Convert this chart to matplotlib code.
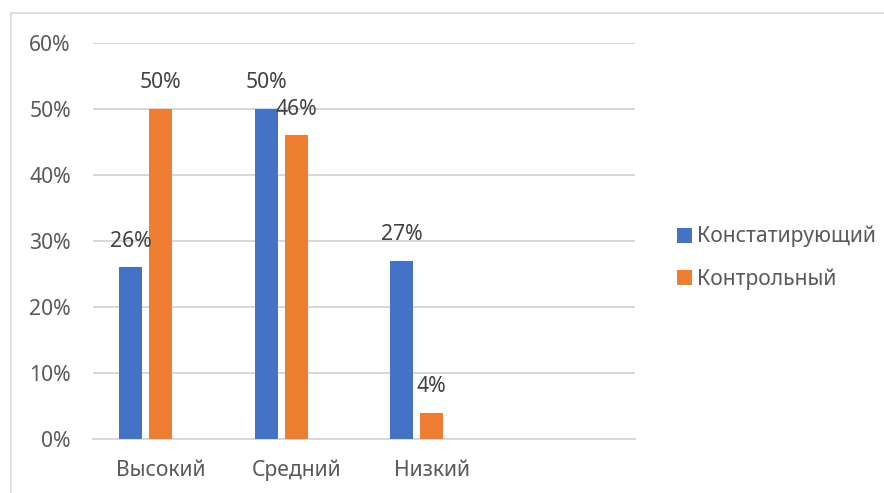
import matplotlib.pyplot as plt
from matplotlib.patches import Rectangle
import numpy as np

# Data
categories = ["Высокий", "Средний", "Низкий", ""]
series_names = ["Констатирующий", "Контрольный"]
konst = [26, 50, 27]
kontr = [50, 46, 4]
colors = ["#4472C4", "#ED7D31"]

plt.rcParams["font.family"] = ["Noto Sans", "DejaVu Sans"]

fig = plt.figure(figsize=(8.84, 4.93), dpi=100)
ax = fig.add_axes([93 / 884, 1 - 439 / 493, (635 - 93) / 884, (439 - 43) / 493])

x = np.arange(len(categories))
step = 30 / 135.5
width = 23 / 135.5

b1 = ax.bar(x[:3] - step, np.array(konst) / 100, width, color=colors[0], label=series_names[0], zorder=3)
b2 = ax.bar(x[:3], np.array(kontr) / 100, width, color=colors[1], label=series_names[1], zorder=3)

fs = 15.2
for bars, vals in [(b1, konst), (b2, kontr)]:
    for rect, v in zip(bars, vals):
        ax.annotate(f"{v}%", (rect.get_x() + rect.get_width() / 2, rect.get_height()),
                    xytext=(0, 19), textcoords="offset points",
                    ha="center", va="center", fontsize=fs, color="#404040", zorder=4)

ax.set_xlim(-0.5, 3.5)
ax.set_ylim(0, 0.6)
ax.set_yticks(np.arange(0, 0.61, 0.1))
ax.set_yticklabels([f"{int(round(t * 100))}%" for t in np.arange(0, 0.61, 0.1)])
ax.set_xticks(x)
ax.set_xticklabels(categories)
ax.tick_params(axis="y", length=0, pad=16, labelsize=fs, labelcolor="#595959")
ax.tick_params(axis="x", length=0, pad=15, labelsize=fs, labelcolor="#595959")
ax.grid(axis="y", color="#d9d9d9", linewidth=1.5, zorder=0)
for s in ["top", "right", "left"]:
    ax.spines[s].set_visible(False)
ax.spines["bottom"].set_color("#d9d9d9")
ax.spines["bottom"].set_linewidth(1.5)

leg = fig.legend(handles=[b1, b2], loc="center left", bbox_to_anchor=(658 / 884, 1 - 258 / 493),
                 frameon=False, fontsize=fs, handlelength=0.72, handleheight=0.72,
                 handletextpad=0.25, labelspacing=1.0, labelcolor="#595959")

fig.add_artist(Rectangle((11 / 884, -0.1), 1.2, 1.1 - 13 / 493,
                         transform=fig.transFigure, fill=False, edgecolor="#d9d9d9", linewidth=1.2))

fig.savefig("out.png", dpi=100)
